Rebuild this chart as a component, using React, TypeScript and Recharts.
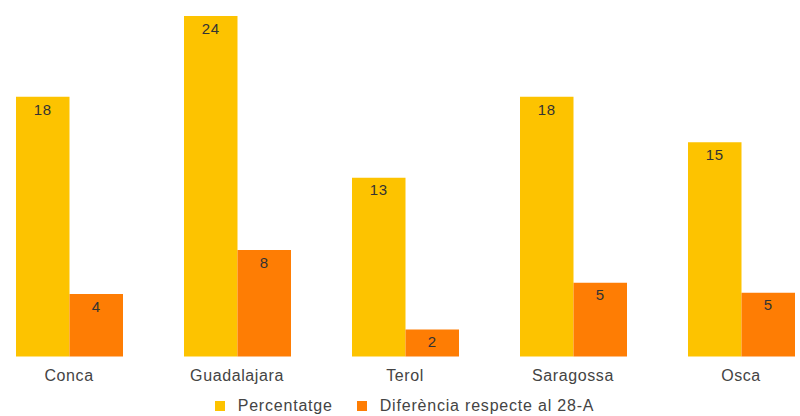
import { BarChart, Bar, XAxis, YAxis, Legend, LabelList } from 'recharts';

const provinces = ['Conca', 'Guadalajara', 'Terol', 'Saragossa', 'Osca'];
const percentatge = [18.3, 24, 12.6, 18.3, 15.1];
const diferencia = [4.4, 7.5, 1.9, 5.2, 4.5];

const YELLOW = '#FDC300';
const ORANGE = '#FE7D04';
const FONT = '"Liberation Sans", Arial, sans-serif';

const chartData = provinces.map((name, i) => ({
  name,
  percentatge: percentatge[i],
  diferencia: diferencia[i],
}));

const legendItems = [
  { label: 'Percentatge', color: YELLOW },
  { label: 'Diferència respecte al 28-A', color: ORANGE },
];

const renderLegend = () => (
  <div
    style={{
      display: 'flex',
      justifyContent: 'center',
      alignItems: 'center',
      height: 20,
      fontFamily: FONT,
      fontSize: 16,
      letterSpacing: 0.8,
      color: '#444',
    }}
  >
    {legendItems.map((item, i) => (
      <div key={item.label} style={{ display: 'flex', alignItems: 'center', marginLeft: i === 0 ? 0 : 24 }}>
        <span style={{ width: 10, height: 10, background: item.color, display: 'inline-block', marginRight: 13 }} />
        <span>{item.label}</span>
      </div>
    ))}
  </div>
);

const barLabel = { fill: '#333', fontSize: 15, fontFamily: FONT, letterSpacing: 0.6 };

const App = () => {
  return (
    <div style={{ position: 'absolute', left: 0, top: 0, width: 800, height: 416, overflow: 'hidden', background: '#fff' }}>
      <div style={{ marginLeft: -15.5 }}>
        <BarChart
          width={840}
          height={416}
          data={chartData}
          margin={{ top: 16, right: 0, bottom: 0, left: 0 }}
          barGap={0}
          barSize={53.5}
        >
          <XAxis
            dataKey="name"
            axisLine={false}
            tickLine={false}
            height={39.5}
            tickMargin={7}
            tick={{ fill: '#444', fontSize: 16, fontFamily: FONT, letterSpacing: 0.6 }}
          />
          <YAxis hide domain={[0, 24]} />
          <Legend verticalAlign="bottom" content={renderLegend} />
          <Bar dataKey="percentatge" fill={YELLOW} isAnimationActive={false}>
            <LabelList
              dataKey="percentatge"
              position="insideTop"
              offset={7}
              formatter={(v: any) => Math.round(Number(v))}
              style={barLabel}
            />
          </Bar>
          <Bar dataKey="diferencia" fill={ORANGE} isAnimationActive={false}>
            <LabelList
              dataKey="diferencia"
              position="insideTop"
              offset={7}
              formatter={(v: any) => Math.round(Number(v))}
              style={barLabel}
            />
          </Bar>
        </BarChart>
      </div>
    </div>
  );
};

export default App;
